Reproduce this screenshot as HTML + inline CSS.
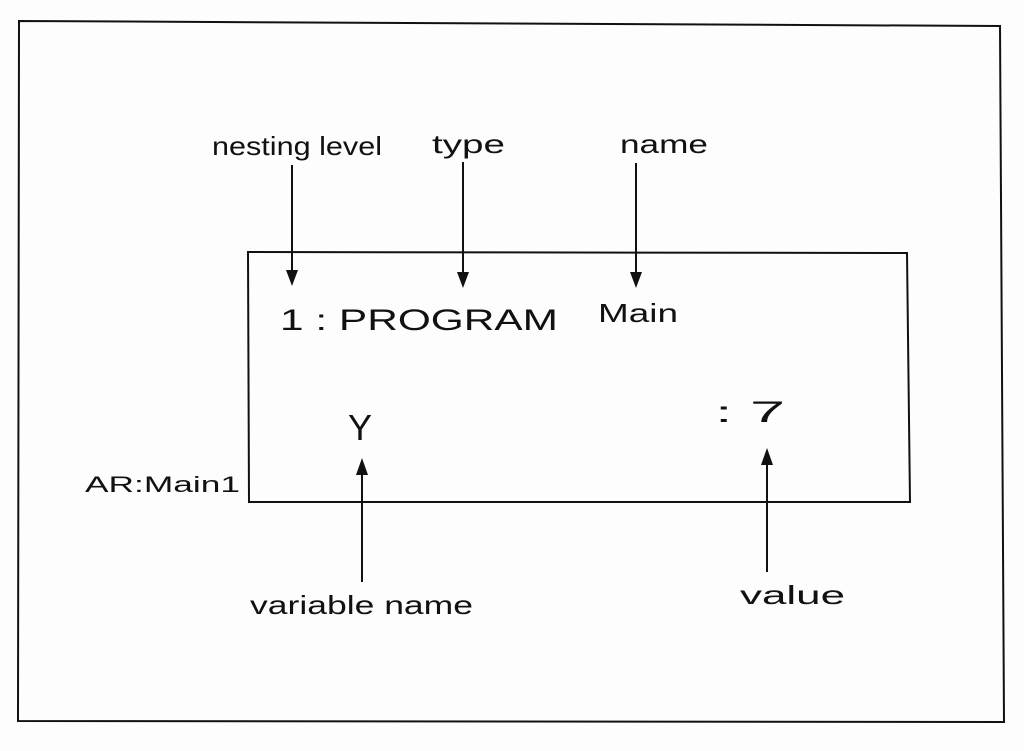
<!DOCTYPE html>
<html><head><meta charset="utf-8"><style>
html,body{margin:0;padding:0;background:#fff;}
svg{display:block}
text{font-family:"Liberation Sans",sans-serif;fill:#111;}
</style></head><body>
<svg width="1024" height="751" viewBox="0 0 1024 751" xmlns="http://www.w3.org/2000/svg">
<rect width="1024" height="751" fill="#fdfdfd"/>
<g stroke="#111" stroke-width="2" fill="none">
<path d="M19 21 L1000 26 L1004 722 L18 721 Z"/>
<path d="M248 252 L907 253 L910 502 L249 502 Z"/>
<line x1="292" y1="165" x2="292" y2="280"/>
<line x1="463" y1="162" x2="463" y2="282"/>
<line x1="636" y1="163" x2="636" y2="282"/>
<line x1="362" y1="582" x2="362" y2="465"/>
<line x1="767" y1="572" x2="767" y2="455"/>
</g>
<g fill="#111">
<path d="M286 270 L292 286 L298 270 Z"/>
<path d="M457 272 L463 288 L469 272 Z"/>
<path d="M630 272 L636 288 L642 272 Z"/>
<path d="M356 475 L362 458 L368 475 Z"/>
<path d="M761 465 L767 448 L773 465 Z"/>
</g>
<g font-size="26">
<text x="212" y="155" textLength="170" lengthAdjust="spacingAndGlyphs">nesting level</text>
<text x="432" y="153" textLength="73" lengthAdjust="spacingAndGlyphs">type</text>
<text x="620" y="153" textLength="88" lengthAdjust="spacingAndGlyphs">name</text>
<text x="250" y="614" textLength="223" lengthAdjust="spacingAndGlyphs">variable name</text>
<text x="740" y="604" textLength="105" lengthAdjust="spacingAndGlyphs">value</text>
</g>
<g font-size="30">
<text x="280" y="330" textLength="278" lengthAdjust="spacingAndGlyphs">1 : PROGRAM</text>
<text x="598" y="322" font-size="26" textLength="80" lengthAdjust="spacingAndGlyphs">Main</text>
<text x="348" y="440" font-size="36">Y</text>
<text x="715" y="422" textLength="70" lengthAdjust="spacingAndGlyphs">: 7</text>
</g>
<text x="85" y="492" font-size="22" textLength="155" lengthAdjust="spacingAndGlyphs">AR:Main1</text>
</svg>
</body></html>
